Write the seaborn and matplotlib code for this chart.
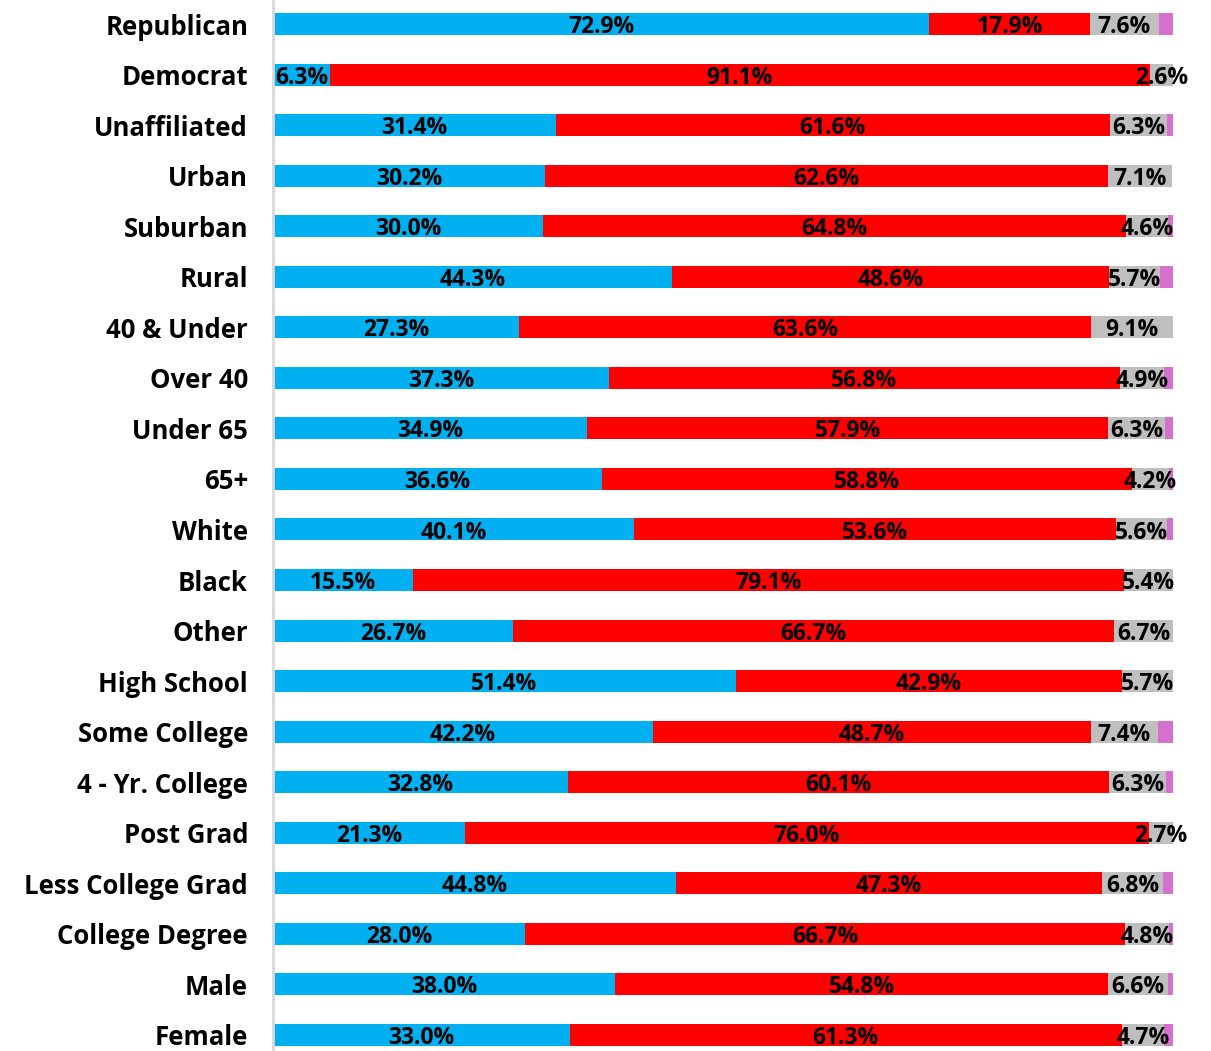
import matplotlib

matplotlib.use("Agg")

import matplotlib.pyplot as plt
import pandas as pd
import seaborn as sns

CATEGORIES = [
    "Republican", "Democrat", "Unaffiliated", "Urban", "Suburban", "Rural",
    "40 & Under", "Over 40", "Under 65", "65+", "White", "Black", "Other",
    "High School", "Some College", "4 - Yr. College", "Post Grad",
    "Less College Grad", "College Degree", "Male", "Female",
]
BLUE_VALUES = [72.9, 6.3, 31.4, 30.2, 30.0, 44.3, 27.3, 37.3, 34.9, 36.6, 40.1,
               15.5, 26.7, 51.4, 42.2, 32.8, 21.3, 44.8, 28.0, 38.0, 33.0]
RED_VALUES = [17.9, 91.1, 61.6, 62.6, 64.8, 48.6, 63.6, 56.8, 57.9, 58.8, 53.6,
              79.1, 66.7, 42.9, 48.7, 60.1, 76.0, 47.3, 66.7, 54.8, 61.3]
GRAY_VALUES = [7.6, 2.6, 6.3, 7.1, 4.6, 5.7, 9.1, 4.9, 6.3, 4.2, 5.6,
               5.4, 6.7, 5.7, 7.4, 6.3, 2.7, 6.8, 4.8, 6.6, 4.7]
PINK_VALUES = [1.6, 0.0, 0.7, 0.0, 0.6, 1.4, 0.0, 1.0, 0.9, 0.4, 0.7,
               0.0, 0.0, 0.0, 1.7, 0.8, 0.0, 1.1, 0.5, 0.6, 1.0]

COLORS = ["#00B0F0", "#FF0000", "#BFBFBF", "#D670CE"]
FONT = ["Open Sans", "DejaVu Sans"]


def main() -> None:
    sns.set_theme(style="white")
    plt.rcParams["font.family"] = FONT

    df = pd.DataFrame({
        "category": CATEGORIES,
        "blue": BLUE_VALUES,
        "red": RED_VALUES,
        "gray": GRAY_VALUES,
        "pink": PINK_VALUES,
    })
    df["c1"] = df["blue"]
    df["c2"] = df["c1"] + df["red"]
    df["c3"] = df["c2"] + df["gray"]
    df["c4"] = df["c3"] + df["pink"]

    fig = plt.figure(figsize=(12.11, 10.51), dpi=100)
    ax = fig.add_axes([273 / 1211, 0, (1173 - 273) / 1211, 1])

    # draw cumulative layers from the longest down so they stack visually
    for col, color in zip(["c4", "c3", "c2", "c1"], COLORS[::-1]):
        sns.barplot(data=df, x=col, y="category", orient="h", color=color,
                    width=0.435, saturation=1, linewidth=0, ax=ax, order=CATEGORIES)

    for i, row in df.iterrows():
        starts = [0, row["c1"], row["c2"]]
        for start, value in zip(starts, [row["blue"], row["red"], row["gray"]]):
            ax.text(start + value / 2, i + 0.06, f"{value:.1f}%", ha="center",
                    va="center", fontsize=16.5, fontweight="bold", color="black")

    ax.set_xlim(0, 100)
    ax.set_ylim(20.317, -0.475)
    ax.set_xlabel("")
    ax.set_ylabel("")
    ax.set_xticks([])
    ax.tick_params(axis="y", length=0, pad=18)
    for label in ax.get_yticklabels():
        label.set_fontsize(18.5)
        label.set_fontweight("bold")
        label.set_color("black")
    for side in ["top", "right", "bottom"]:
        ax.spines[side].set_visible(False)
    ax.spines["left"].set_color("#D9D9D9")
    ax.spines["left"].set_linewidth(2)

    fig.savefig("out.png", dpi=100, facecolor="white")


if __name__ == "__main__":
    main()
